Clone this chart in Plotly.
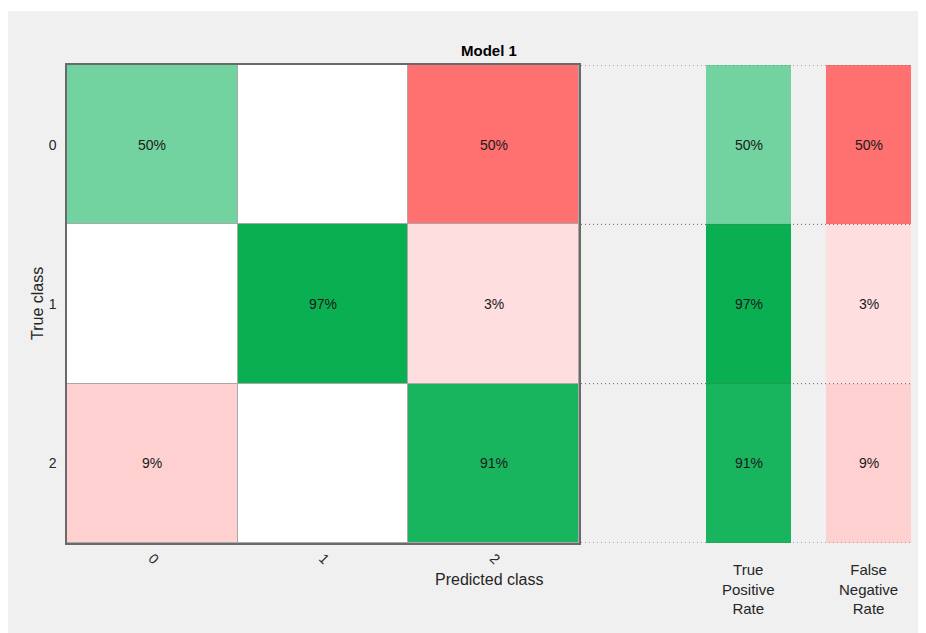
import plotly.graph_objects as go

# page is drawn with the browser's 8px body margin, so size the figure to fit the window
W, H = 918, 625

classes = ['0', '1', '2']
pct = [[50, 0, 50],
       [0, 97, 3],
       [9, 0, 91]]
tpr = [50, 97, 91]
fnr = [50, 3, 9]
rate_labels = ['True<br>Positive<br>Rate', 'False<br>Negative<br>Rate']

# colour lookups (value -> colour)
green_scale = [[0, '#ffffff'], [0.5, '#72d3a0'], [0.91, '#19b55e'], [0.97, '#0aaf51'], [1, '#0aaf51']]
red_scale = [[0, '#ffffff'], [0.03, '#ffdee0'], [0.09, '#ffd0d0'], [0.5, '#ff7070'], [1, '#ff4040']]

FONT = 'Liberation Sans, Arial'


def px(x):
    # screen x (window pixels) -> paper fraction
    return (x - 8) / W


def py(y):
    return 1 - (y - 8) / H


n = len(classes)
diag = [[pct[i][j] if i == j else None for j in range(n)] for i in range(n)]
off = [[pct[i][j] if i != j else None for j in range(n)] for i in range(n)]
diag_txt = [[f'{pct[i][j]}%' if i == j and pct[i][j] else '' for j in range(n)] for i in range(n)]
off_txt = [[f'{pct[i][j]}%' if i != j and pct[i][j] else '' for j in range(n)] for i in range(n)]

font_cell = dict(family=FONT, size=14, color='#1a1a1a')

fig = go.Figure()
fig.add_trace(go.Heatmap(z=off, x=classes, y=classes, colorscale=red_scale, zmin=0, zmax=100,
                         showscale=False, xgap=1, ygap=1, hoverinfo='skip',
                         text=off_txt, texttemplate='%{text}', textfont=font_cell))
fig.add_trace(go.Heatmap(z=diag, x=classes, y=classes, colorscale=green_scale, zmin=0, zmax=100,
                         showscale=False, xgap=1, ygap=1, hoverinfo='skip',
                         text=diag_txt, texttemplate='%{text}', textfont=font_cell))
fig.add_trace(go.Heatmap(z=[[v] for v in tpr], x=['t'], y=classes,
                         colorscale=green_scale, zmin=0, zmax=100, showscale=False,
                         xaxis='x2', yaxis='y', hoverinfo='skip',
                         text=[[f'{v}%'] for v in tpr], texttemplate='%{text}', textfont=font_cell))
fig.add_trace(go.Heatmap(z=[[v] for v in fnr], x=['f'], y=classes,
                         colorscale=red_scale, zmin=0, zmax=100, showscale=False,
                         xaxis='x3', yaxis='y', hoverinfo='skip',
                         text=[[f'{v}%'] for v in fnr], texttemplate='%{text}', textfont=font_cell))

tick_font = dict(family=FONT, size=14, color='#262626')
fig.update_layout(
    width=W, height=H,
    margin=dict(l=0, r=0, t=0, b=0),
    paper_bgcolor='#f0f0f0',
    plot_bgcolor='#a9a9a9',
    xaxis=dict(domain=[px(67), px(579)], anchor='y', range=[-0.5, 2.5], type='category',
               showgrid=False, zeroline=False, ticks='', tickangle=45, tickfont=tick_font,
               ticklabelstandoff=0,
               showline=True, mirror=True, linecolor='#6a6a6a', linewidth=1.5),
    yaxis=dict(domain=[py(543), py(65)], range=[2.5, -0.5], type='category',
               showgrid=False, zeroline=False, ticks='', tickfont=tick_font, ticklabelstandoff=6,
               showline=True, mirror=True, linecolor='#6a6a6a', linewidth=1.5),
    xaxis2=dict(domain=[px(706), px(791)], anchor='y', showgrid=False, zeroline=False,
                showticklabels=False, ticks='', range=[-0.5, 0.5]),
    xaxis3=dict(domain=[px(826), px(911)], anchor='y', showgrid=False, zeroline=False,
                showticklabels=False, ticks='', range=[-0.5, 0.5]),
    showlegend=False,
)

# white strip along the top of the original screenshot
fig.add_shape(type='rect', xref='paper', yref='paper', x0=0, x1=1, y0=py(11), y1=1,
              fillcolor='white', line_width=0, layer='below')

# dotted row separators on the rate side
for b in [-0.5, 0.5, 1.5, 2.5]:
    fig.add_shape(type='line', xref='paper', yref='y', x0=px(581), x1=px(911), y0=b, y1=b,
                  line=dict(color='#606060', width=1, dash='1px,3px'))

ann = dict(xref='paper', yref='paper', showarrow=False, xanchor='center', yanchor='middle')
fig.add_annotation(text='<b>Model 1</b>', x=px(489), y=py(51),
                   font=dict(family=FONT, size=15, color='#000000'), **ann)
fig.add_annotation(text='Predicted class', x=px(489), y=py(579),
                   font=dict(family=FONT, size=16, color='#262626'), **ann)
fig.add_annotation(text='True class', x=px(37), y=py(304), textangle=-90,
                   font=dict(family=FONT, size=16, color='#262626'), **ann)
for lab, cx in zip(rate_labels, [748, 868]):
    fig.add_annotation(text=lab, x=px(cx), y=py(589), align='center',
                       font=dict(family=FONT, size=15, color='#262626'), **ann)

fig.write_html('out.html')
